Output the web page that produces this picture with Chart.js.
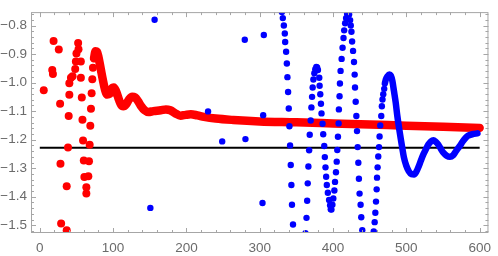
<!DOCTYPE html>
<html lang="en">
<head>
<meta charset="UTF-8">
<title>Oscillating sequences</title>
<script src="https://cdn.jsdelivr.net/npm/chart.js"></script>
<style>
    html, body { margin: 0; padding: 0; background: #fff; }
    .wrap { width: 498px; height: 256px; }
</style>
</head>
<body>
<div class="wrap"><canvas id="chart" width="498" height="256"></canvas></div>
<script>
// red: scattered start, then the settled curve
const redScatterX = [5.4, 17, 17.9, 18.8, 25.9, 27.7, 28.2, 29.1, 36.7, 36.7, 38.5, 39.4, 40.3, 40.3, 42.5, 44.7,
    48.3, 49.2, 50, 52.3, 52.8, 56, 56, 57.3, 58.2, 59, 60, 60.8, 63.5, 63.5, 66.2, 67.1, 68, 68.9, 69.8, 70.7, 71.6, 72.5];
const redScatterY = [-1.027, -0.956, -0.97, -0.854, -0.884, -1.074, -1.284, -1.494, -1.363, -1.517, -1.227, -1.117, -1.043, -1.002, -0.983, -0.978,
    -0.952, -0.926, -0.898, -0.861, -0.883, -0.926, -0.983, -1.052, -1.13, -1.203, -1.273, -1.331, -1.367, -1.389, -1.328, -1.276, -1.218, -1.151, -1.092, -1.037, -0.988, -0.948];
const redCurveX = [74, 76, 78, 80, 83, 86, 89, 92, 95, 98, 101, 104, 108, 111, 114, 118, 122, 126, 130, 134, 138, 143, 148, 155,
    165, 172, 178, 185, 192, 199, 206, 215, 224, 240, 264, 300, 350, 400, 450, 500, 550, 600];
const redCurveY = [-0.915, -0.89, -0.892, -0.91, -0.95, -0.99, -1.025, -1.042, -1.04, -1.022, -1.017, -1.03, -1.06, -1.078, -1.083, -1.075, -1.058, -1.05, -1.052, -1.065, -1.082, -1.097, -1.103, -1.1,
    -1.097, -1.094, -1.097, -1.108, -1.116, -1.113, -1.111, -1.115, -1.12, -1.126, -1.131, -1.136, -1.139, -1.143, -1.147, -1.151, -1.155, -1.159];

// blue: scattered start, wild oscillation, then the settled curve
const blueScatterX = [150.8, 156.6, 229.5, 248.8, 279.6, 280.5, 303.8, 304.7, 305.6,
    330.2, 331.5, 332.9, 334.2, 334.7, 336, 337, 337.8, 338.7, 339.6, 340.5, 341.4, 342.3, 343.2, 344, 345.4,
    362.4, 363.8, 364.7, 365.5, 366.4, 367.4, 368.2, 369.5, 370.5, 371.4, 372.2, 373.2, 374.5, 375.8, 377.2, 378.3,
    379.4, 381.2, 381.7, 382.6, 383.5, 384.3, 385.7, 386.6, 388, 388.8, 389.7, 390.6, 391.5, 392.9, 394.6, 396, 396.9, 397.8,
    399.1, 400.4, 401.8, 402.7, 404, 405, 405.8, 406.7, 407.6, 408, 408.9, 409.4, 410.3, 411.7, 413, 414.3, 415.2, 416.5, 417.8, 419.2, 420.5,
    421.9, 423.3, 424.2, 425.1, 426, 427.3, 428.6, 429.5, 430, 430.9, 431.8, 432.7, 433.6, 434.5, 435.3, 436.2, 437.6, 438.5, 439.9,
    455.5, 456.8, 457.7, 458.6, 459.5, 460, 460.8, 461.7, 462.7, 463.5, 464.4, 465.8, 466.6, 467.5, 468.5, 469.8];
const blueScatterY = [-1.439, -0.78, -1.101, -1.206, -0.85, -1.198, -1.422, -1.114, -0.833,
    -0.753, -0.774, -0.8, -0.828, -0.858, -0.892, -0.933, -0.981, -1.033, -1.091, -1.153, -1.22, -1.289, -1.359, -1.428, -1.497,
    -1.528, -1.474, -1.414, -1.353, -1.294, -1.237, -1.183, -1.133, -1.087, -1.05, -1.017, -0.989, -0.967, -0.953, -0.945, -0.947,
    -0.956, -0.983, -1.011, -1.041, -1.074, -1.108, -1.144, -1.181, -1.222, -1.261, -1.297, -1.33, -1.359, -1.386, -1.411, -1.43, -1.444, -1.445,
    -1.428, -1.406, -1.378, -1.348, -1.314, -1.277, -1.236, -1.19, -1.143, -1.094, -1.048, -1.003, -0.959, -0.917, -0.878, -0.844, -0.817, -0.792, -0.774, -0.759, -0.752,
    -0.761, -0.781, -0.8, -0.822, -0.856, -0.889, -0.928, -0.972, -1.017, -1.067, -1.117, -1.17, -1.226, -1.281, -1.337, -1.389, -1.428, -1.472, -1.517,
    -1.522, -1.489, -1.456, -1.417, -1.374, -1.333, -1.297, -1.259, -1.226, -1.189, -1.15, -1.117, -1.083, -1.059, -1.041, -1.022];
const blueCurveX = [470.7, 472, 474.2, 476.9, 478.8, 481, 483, 485.5, 487.7, 490, 492.2, 494.5, 496.6, 500, 503.4, 507, 510.5, 513.5,
    516.8, 520, 523.5, 527, 530, 533.5, 537, 540, 543.6, 547, 550, 555, 559.5, 564, 568, 573, 577, 581, 584, 590, 597];
const blueCurveY = [-1.003, -0.989, -0.978, -0.972, -0.975, -0.995, -1.028, -1.07, -1.117, -1.158, -1.194, -1.23, -1.261, -1.292, -1.311, -1.321, -1.322, -1.313,
    -1.294, -1.272, -1.25, -1.232, -1.217, -1.206, -1.202, -1.207, -1.217, -1.232, -1.244, -1.256, -1.26, -1.254, -1.239, -1.222, -1.206, -1.193, -1.186, -1.181, -1.178];

// black reference level
const refLineX = [0, 600];
const refLineY = [-1.228, -1.228];

const xMajorTicks = [0, 100, 200, 300, 400, 500, 600];
const yMajorTicks = [-1.5, -1.4, -1.3, -1.2, -1.1, -1.0, -0.9, -0.8];

function pts(xs, ys) {
    return xs.map((x, i) => ({ x: x, y: ys[i] }));
}

// minor ticks every 1/5 of a major step
function withMinors(majors, lo, hi) {
    const step = (majors[1] - majors[0]) / 5;
    const out = [];
    for (let v = majors[0] - 5 * step; v <= majors[majors.length - 1] + 5 * step + 1e-9; v += step) {
        const r = Math.round(v / step) * step;
        if (r >= lo && r <= hi) out.push(r);
    }
    return out;
}

function isMajor(v, majors) {
    return majors.some(m => Math.abs(m - v) < 1e-6);
}

const frameColor = '#a6a6a6';
const labelFont = { family: 'Liberation Sans', size: 13.5 };

// Mathematica-style frame with inward ticks on all four sides
const framePlugin = {
    id: 'frame',
    afterDraw(chart) {
        const ctx = chart.ctx;
        const a = chart.chartArea;
        const xs = chart.scales.x, ys = chart.scales.y;
        ctx.save();
        ctx.strokeStyle = frameColor;
        ctx.lineWidth = 1;
        ctx.strokeRect(a.left + 0.5, a.top + 0.5, a.right - a.left - 1, a.bottom - a.top - 1);
        ctx.beginPath();
        xs.ticks.forEach(t => {
            const px = Math.round(xs.getPixelForValue(t.value)) + 0.5;
            const len = isMajor(t.value, xMajorTicks) ? 5 : 3;
            ctx.moveTo(px, a.bottom); ctx.lineTo(px, a.bottom - len);
            ctx.moveTo(px, a.top); ctx.lineTo(px, a.top + len);
        });
        ys.ticks.forEach(t => {
            const py = Math.round(ys.getPixelForValue(t.value)) + 0.5;
            const len = isMajor(t.value, yMajorTicks) ? 5 : 3;
            ctx.moveTo(a.left, py); ctx.lineTo(a.left + len, py);
            ctx.moveTo(a.right, py); ctx.lineTo(a.right - len, py);
        });
        ctx.stroke();
        ctx.restore();
    }
};

const X_MIN = -12, X_MAX = 612;
const Y_MIN = -1.527, Y_MAX = -0.753;

new Chart(document.getElementById('chart'), {
    type: 'scatter',
    data: {
        datasets: [
            {
                label: 'blue curve',
                type: 'line',
                data: pts(blueCurveX, blueCurveY),
                borderColor: '#0000ff',
                borderWidth: 6.5,
                pointRadius: 0,
                cubicInterpolationMode: 'monotone',
                borderCapStyle: 'round',
                borderJoinStyle: 'round',
                clip: 0,
                order: 0
            },
            {
                label: 'blue points',
                data: pts(blueScatterX, blueScatterY),
                backgroundColor: '#0000ff',
                borderWidth: 0,
                pointRadius: 3.2,
                clip: 0,
                order: 1
            },
            {
                label: 'red curve',
                type: 'line',
                data: pts(redCurveX, redCurveY),
                borderColor: '#ff0000',
                borderWidth: 8.5,
                pointRadius: 0,
                cubicInterpolationMode: 'monotone',
                borderCapStyle: 'round',
                borderJoinStyle: 'round',
                clip: 0,
                order: 2
            },
            {
                label: 'red points',
                data: pts(redScatterX, redScatterY),
                backgroundColor: '#ff0000',
                borderWidth: 0,
                pointRadius: 4,
                clip: 0,
                order: 3
            },
            {
                label: 'reference',
                type: 'line',
                data: pts(refLineX, refLineY),
                borderColor: '#000000',
                borderWidth: 2,
                pointRadius: 0,
                clip: 0,
                order: 4
            }
        ]
    },
    options: {
        responsive: false,
        animation: false,
        events: [],
        layout: { padding: { top: 1, right: 2.5, left: 0, bottom: 0 } },
        plugins: { legend: { display: false }, tooltip: { enabled: false } },
        scales: {
            x: {
                type: 'linear',
                min: X_MIN,
                max: X_MAX,
                afterBuildTicks: s => { s.ticks = withMinors(xMajorTicks, X_MIN, X_MAX).map(v => ({ value: v })); },
                afterFit: s => { s.height = 23; },
                grid: { display: false, drawTicks: false },
                border: { display: false },
                ticks: {
                    autoSkip: false,
                    maxRotation: 0,
                    padding: 7,
                    color: '#6b6b6b',
                    font: labelFont,
                    callback: v => isMajor(v, xMajorTicks) ? String(Math.round(v)) : ''
                }
            },
            y: {
                type: 'linear',
                min: Y_MIN,
                max: Y_MAX,
                afterBuildTicks: s => { s.ticks = withMinors(yMajorTicks, Y_MIN, Y_MAX).map(v => ({ value: v })); },
                afterFit: s => { s.width = 31; },
                grid: { display: false, drawTicks: false },
                border: { display: false },
                ticks: {
                    autoSkip: false,
                    padding: 4,
                    color: '#6b6b6b',
                    font: labelFont,
                    callback: v => isMajor(v, yMajorTicks) ? '\u2212' + Math.abs(v).toFixed(1) : ''
                }
            }
        }
    },
    plugins: [framePlugin]
});
</script>
</body>
</html>
